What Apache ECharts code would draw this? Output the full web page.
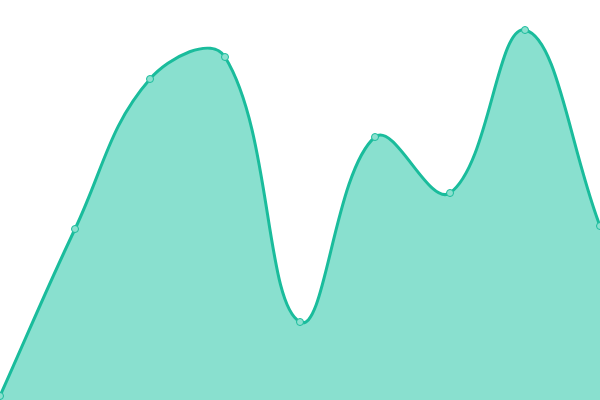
<!DOCTYPE html>
<html>
<head>
<meta charset="utf-8">
<script src="https://cdn.jsdelivr.net/npm/echarts@6/dist/echarts.min.js"></script>
<style>
  html, body { margin: 0; padding: 0; background: #fff; }
  #chart { width: 600px; height: 400px; }
</style>
</head>
<body>
<div id="chart"></div>
<script>
// categories and values
const categories = ['A', 'B', 'C', 'D', 'E', 'F', 'G', 'H', 'I'];
const values = [4, 171, 321, 343, 78, 263, 207, 370, 174];

const LINE = '#1abc9c';
const FILL = '#89e0cf';
const TENSION = 0.4;

// cardinal-ish spline control points (no clamping between neighbours)
function controlPoints(pts) {
  const cps = [];
  for (let i = 0; i < pts.length; i++) {
    const prev = pts[i - 1] || pts[i];
    const cur = pts[i];
    const next = pts[i + 1] || pts[i];
    const d01 = Math.hypot(cur[0] - prev[0], cur[1] - prev[1]);
    const d12 = Math.hypot(next[0] - cur[0], next[1] - cur[1]);
    let s01 = d01 / (d01 + d12);
    let s12 = d12 / (d01 + d12);
    if (isNaN(s01)) s01 = 0;
    if (isNaN(s12)) s12 = 0;
    const fa = TENSION * s01;
    const fb = TENSION * s12;
    cps.push({
      prev: [cur[0] - fa * (next[0] - prev[0]), cur[1] - fa * (next[1] - prev[1])],
      next: [cur[0] + fb * (next[0] - prev[0]), cur[1] + fb * (next[1] - prev[1])]
    });
  }
  return cps;
}

function renderCurve(params, api) {
  if (params.dataIndex !== 0) return null;
  const pts = values.map((v, i) => api.coord([i, v]));
  const cps = controlPoints(pts);
  let d = 'M' + pts[0][0] + ' ' + pts[0][1];
  for (let i = 1; i < pts.length; i++) {
    const a = cps[i - 1].next, b = cps[i].prev;
    d += ' C' + a[0] + ' ' + a[1] + ' ' + b[0] + ' ' + b[1] + ' ' + pts[i][0] + ' ' + pts[i][1];
  }
  const base = api.coord([0, 0])[1];
  const area = d + ' L' + pts[pts.length - 1][0] + ' ' + base + ' L' + pts[0][0] + ' ' + base + ' Z';
  return {
    type: 'group',
    children: [
      { type: 'path', shape: { pathData: area }, style: { fill: FILL, stroke: null } },
      { type: 'path', shape: { pathData: d }, style: { fill: null, stroke: LINE, lineWidth: 3 } }
    ]
  };
}

const chart = echarts.init(document.getElementById('chart'), null, { renderer: 'canvas' });

chart.setOption({
  animation: false,
  grid: { left: 0, right: 0, top: 0, bottom: 0 },
  xAxis: {
    type: 'category',
    data: categories,
    boundaryGap: false,
    show: false
  },
  yAxis: {
    type: 'value',
    min: 0,
    max: 400,
    show: false
  },
  series: [
    {
      type: 'custom',
      renderItem: renderCurve,
      data: values.map((v, i) => [i, v]),
      clip: false,
      silent: true
    },
    {
      type: 'scatter',
      data: values.map((v, i) => [i, v]),
      symbol: 'circle',
      symbolSize: 7,
      itemStyle: { color: '#8ce0cf', borderColor: LINE, borderWidth: 1, opacity: 1 },
      z: 3
    }
  ]
});
</script>
</body>
</html>
